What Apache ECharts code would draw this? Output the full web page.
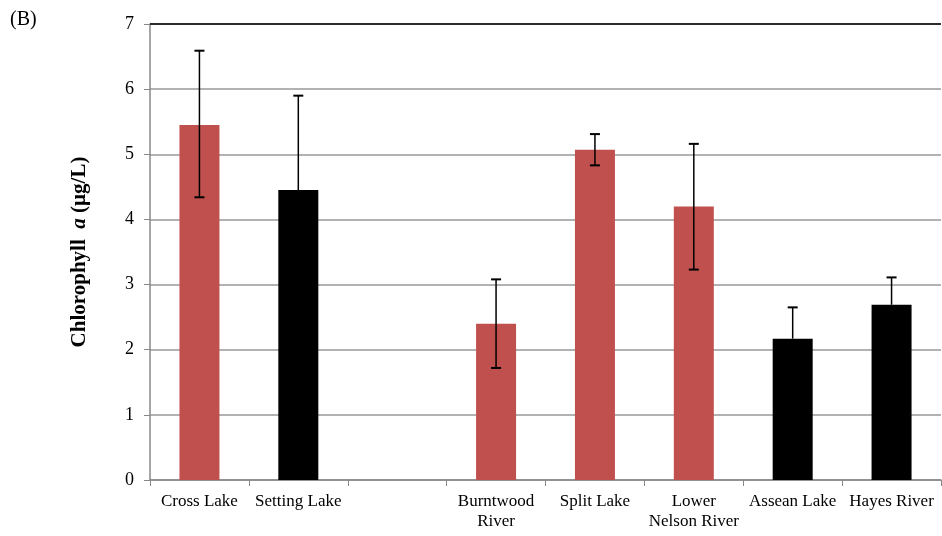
<!DOCTYPE html>
<html><head><meta charset="utf-8">
<script src="https://cdn.jsdelivr.net/npm/echarts@6/dist/echarts.min.js"></script>
<style>html,body{margin:0;padding:0;background:#fff}#c{width:942px;height:536px}</style>
</head><body><div id="c"></div>
<script>
const categories = ['Cross Lake','Setting Lake','','Burntwood\nRiver','Split Lake','Lower\nNelson River','Assean Lake','Hayes River'];
const values = [5.45, 4.45, null, 2.40, 5.07, 4.20, 2.17, 2.69];
const errUpper = [6.59, 5.90, null, 3.08, 5.31, 5.16, 2.65, 3.11];
const errLower = [4.34, null, null, 1.72, 4.83, 3.23, null, null];
const barColors = ['#C0504D','#000000',null,'#C0504D','#C0504D','#C0504D','#000000','#000000'];
const yTicks = [0,1,2,3,4,5,6,7];

const chart = echarts.init(document.getElementById('c'), null, {renderer:'canvas'});
const font = '"Liberation Serif", "Times New Roman", serif';
const errData = categories.map((c,i)=> values[i]==null ? null : [i, errLower[i]==null ? values[i] : errLower[i], errUpper[i], errLower[i]!=null]);
chart.setOption({
  animation:false,
  grid:{left:150,right:1,top:24,bottom:56,containLabel:false},
  graphic:[
    {type:'text',left:10,top:10,style:{text:'(B)',font:'20px '+font,fill:'#000'}}
  ],
  xAxis:{type:'category',data:categories,boundaryGap:true,
    axisLine:{lineStyle:{color:'#888',width:1.5}},
    axisTick:{show:true,length:6,lineStyle:{color:'#888'},alignWithLabel:false},
    axisLabel:{fontFamily:font,fontSize:17,color:'#000',margin:12,lineHeight:20,interval:0}
  },
  yAxis:{type:'value',min:0,max:7,interval:1,
    name:'{b|Chlorophyll  }{i|a}{b| (µg/L)}',nameLocation:'middle',nameGap:60,nameRotate:90,
    nameTextStyle:{rich:{b:{fontFamily:font,fontWeight:'bold',fontSize:21,color:'#000'},i:{fontFamily:font,fontWeight:'bold',fontStyle:'italic',fontSize:21,color:'#000'}}},
    axisLine:{show:true,lineStyle:{color:'#888',width:1.5}},
    axisTick:{show:true,length:6,lineStyle:{color:'#888'}},
    axisLabel:{fontFamily:font,fontSize:18,color:'#000',margin:16,formatter:v=>yTicks.includes(v)?String(v):''},
    splitLine:{show:true,lineStyle:{color:'#999',width:1.5}}
  },
  series:[
    {type:'bar',barWidth:40,data:values.map((v,i)=>v==null?null:{value:v,itemStyle:{color:barColors[i]}}),
     markLine:{silent:true,symbol:'none',label:{show:false},lineStyle:{color:'#000',width:1.5,type:'solid'},data:[{yAxis:7}]}
    },
    {type:'custom',z:10,data:errData.filter(d=>d),
     renderItem:function(params,api){
       const x = api.value(0), lo = api.value(1), hi = api.value(2), hasLo = api.value(3);
       const pHi = api.coord([x,hi]), pLo = api.coord([x,lo]);
       const cap = 5;
       const children = [
         {type:'line',shape:{x1:pHi[0],y1:pHi[1],x2:pLo[0],y2:pLo[1]},style:{stroke:'#000',lineWidth:1.5}},
         {type:'line',shape:{x1:pHi[0]-cap,y1:pHi[1],x2:pHi[0]+cap,y2:pHi[1]},style:{stroke:'#000',lineWidth:2}}
       ];
       if(hasLo) children.push({type:'line',shape:{x1:pLo[0]-cap,y1:pLo[1],x2:pLo[0]+cap,y2:pLo[1]},style:{stroke:'#000',lineWidth:2}});
       return {type:'group',children:children};
     }
    }
  ]
});
</script></body></html>
